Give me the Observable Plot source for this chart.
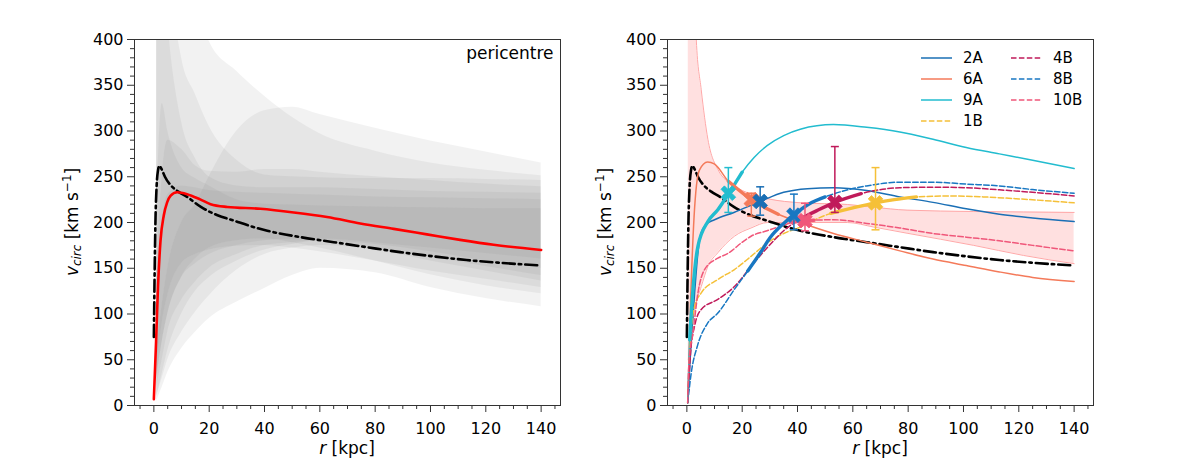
<!DOCTYPE html>
<html><head><meta charset="utf-8">
<script src="https://cdn.jsdelivr.net/npm/d3@7"></script>
<script src="https://cdn.jsdelivr.net/npm/@observablehq/plot@0.6"></script>
<style>
body{margin:0;background:#fff;font-family:"DejaVu Sans",sans-serif;color:#000;}
#wrap{position:relative;width:1196px;height:458px;overflow:hidden;background:#fff;}
.panel{position:absolute;top:0;}
.lab{position:absolute;white-space:nowrap;font-size:17px;line-height:1;}
.ylab{transform:translate(-50%,-50%) rotate(-90deg);}
.xlab{transform:translate(-50%,-50%);}
.lab sub{font-size:70%;vertical-align:-0.3em;line-height:0;}
.lab sup{font-size:70%;vertical-align:0.55em;line-height:0;}
#legend{position:absolute;left:921px;top:47px;font-size:15px;}
.item{position:absolute;display:flex;align-items:center;height:21px;white-space:nowrap;}
.item svg{margin-right:11px;}
</style>
</head><body>
<div id="wrap">
  <div id="left" class="panel" style="left:0"></div>
  <div id="right" class="panel" style="left:598px"></div>
  <div class="lab ylab" style="left:72px;top:222px"><i>v</i><sub><i>circ</i></sub> [km s<sup>−1</sup>]</div>
  <div class="lab ylab" style="left:605px;top:222px"><i>v</i><sub><i>circ</i></sub> [km s<sup>−1</sup>]</div>
  <div class="lab xlab" style="left:347px;top:448px"><i>r</i> [kpc]</div>
  <div class="lab xlab" style="left:880px;top:448px"><i>r</i> [kpc]</div>
  <div id="legend"></div>
</div>
<script>
// ---------- tick labels ----------
const xMajor = [0, 20, 40, 60, 80, 100, 120, 140];
const xMinor = [-5, 5, 10, 15, 25, 30, 35, 45, 50, 55, 65, 70, 75, 85, 90, 95, 105, 110, 115, 125, 130, 135, 145];
const yMajor = [0, 50, 100, 150, 200, 250, 300, 350, 400];
const yMinor = [10, 20, 30, 40, 60, 70, 80, 90, 110, 120, 130, 140, 160, 170, 180, 190, 210, 220, 230, 240, 260, 270, 280, 290, 310, 320, 330, 340, 360, 370, 380, 390];

// ---------- Milky Way reference curve (black dash-dot) ----------
const mwR = [0, 0.3, 0.6, 1, 1.5, 2, 3, 4, 6, 8.7, 12, 17, 20, 23, 29, 35, 41, 53, 65, 77, 89, 101, 113, 125, 140];
const mwV = [75, 150, 205, 240, 257, 262, 257, 250, 241, 234, 228, 217, 212, 208, 202, 196, 191, 184, 178.5, 173, 167.6, 163, 159, 156, 153];

// ---------- left panel: red curve ----------
const redR = [0, 0.8, 1.5, 2.4, 3.6, 4.8, 6, 8.4, 12, 16.9, 20.5, 26.5, 38.5, 50.6, 62.6, 74.6, 86.7, 98.7, 110.7, 122.8, 140];
const redV = [7, 70, 130, 180, 208, 222, 229, 233, 231, 225, 220, 217, 215, 211, 206, 199, 193, 187, 181, 175.6, 170];

// ---------- left panel: grey bands ----------
const bandR = [1, 3, 5, 10, 15, 20, 30, 40, 50, 60, 80, 100, 120, 140];
const band1Lo = [5, 20, 36, 62, 80, 95, 113, 128, 142, 150, 145, 129, 117, 108];
const band1Hi = [60, 110, 150, 200, 220, 250, 300, 322, 326, 318, 303, 289, 277, 265];
const band2Lo = [30, 70, 100, 140, 160, 172, 180, 182, 178, 172, 158, 143, 131, 122];
const band2Hi = [900, 750, 650, 520, 450, 398, 365, 338, 315, 297, 278, 265, 257, 251];
const band3Lo = [40, 90, 120, 155, 165, 170, 174, 175, 172, 168, 158, 147, 138, 129];
const band3Hi = [800, 600, 500, 380, 340, 305, 268, 252, 250, 249, 248, 248, 247, 246];
const band4Lo = [10, 30, 50, 80, 102, 120, 148, 165, 172, 175, 170, 158, 147, 136];
const band4Hi = [150, 250, 290, 280, 262, 256, 255, 258, 258, 255, 250, 246, 242, 239];
const band5Lo = [20, 50, 80, 115, 135, 150, 165, 175, 178, 180, 172, 162, 152, 142];
const band5Hi = [450, 500, 420, 310, 270, 250, 240, 238, 238, 238, 236, 234, 233, 232];
const band6Lo = [10, 35, 60, 100, 125, 140, 158, 170, 176, 180, 176, 168, 158, 150];
const band6Hi = [120, 200, 230, 240, 238, 235, 233, 232, 231, 230, 228, 227, 226, 225];
const band7Lo = [30, 70, 100, 140, 155, 165, 175, 180, 182, 182, 178, 172, 166, 160];
const band7Hi = [200, 330, 300, 260, 248, 240, 225, 220, 219, 218, 217, 216, 215, 215];

// ---------- right panel: pink band ----------
const pinkR = [0.5, 1, 2, 3.4, 5.2, 7.6, 11.2, 17.2, 23.2, 29.2, 41.3, 58, 67.6, 79.6, 103.7, 121.7, 140];
const pinkLo = [50, 65, 88, 112, 130, 152, 167, 185, 194, 200, 200, 200, 195, 188.3, 175, 164, 155];
const pinkHi = [900, 700, 520, 400, 345, 291, 258, 240, 231, 226, 221.5, 219.7, 216.7, 213.5, 212, 211.5, 211];

// ---------- right panel: curves ----------
const seriesNames = ["2A", "6A", "9A", "1B", "4B", "8B", "10B"];
const seriesColors = ["#1a6fb5", "#f47a5a", "#22bccf", "#f5c038", "#c01a5a", "#1877c2", "#f0577a"];
const seriesDashed = [false, false, false, true, true, true, true];

const r2A = [0.3, 1.6, 2.8, 4, 5.2, 7, 10, 17, 26.5, 35, 43.6, 53, 65, 77, 89, 101, 113, 125, 140];
const v2A = [3, 72, 123, 167, 189, 198, 203, 211, 223, 233, 237, 238, 235, 228, 222, 215, 209, 205, 201];
const r6A = [0.3, 1.4, 2.6, 4.5, 7.5, 9.9, 15, 23.3, 29, 33, 41, 53, 65, 77, 89, 101, 113, 125, 140];
const v6A = [3, 118, 206, 257, 266, 264, 245, 225, 215, 209, 200, 188, 178.5, 169, 160, 153, 146, 140, 135.5];
const r9A = [0.3, 1, 2.2, 4, 7.6, 11.2, 15, 20, 24.3, 29, 35, 41, 53, 65, 77, 89, 101, 113, 125, 140];
const v9A = [3, 72, 127, 174, 201, 214, 231, 255, 271, 284, 295, 302, 307, 304, 299, 291, 282, 275, 268, 259];
const r1B = [0.3, 1.4, 2.8, 5.2, 11.2, 17.2, 23.2, 29.2, 35, 41, 47, 52, 60, 68.2, 75, 83, 95, 107, 119, 140];
const v1B = [3, 75, 108.6, 123, 137.7, 148.6, 163, 178, 188, 195, 204, 210, 216, 221.5, 225, 228, 229, 228, 226, 221.5];
const r4B = [0.3, 1.4, 2.8, 5.2, 11.2, 17.2, 23.2, 29.2, 35, 42, 47, 53.5, 63, 77, 89, 101, 113, 125, 140];
const v4B = [3, 60, 87, 105, 116, 130, 152, 173, 191, 205.5, 213, 222, 231.5, 238, 238.6, 238, 235.7, 233, 229];
const r8B = [0.3, 1.6, 3.9, 7.5, 11.2, 17.2, 22, 26.8, 30, 35, 38.7, 44, 50, 56, 65, 77, 89, 101, 113, 125, 140];
const v8B = [3, 36, 66, 90, 101, 127, 147, 168, 183, 199, 208.4, 220, 228, 234, 240, 244, 244, 242, 240, 236, 232];
const r10B = [0.3, 0.8, 2.2, 4, 6.4, 11.2, 14.7, 20.7, 23.2, 29, 34, 38, 42.7, 46, 53, 65, 77, 89, 101, 113, 125, 140];
const v10B = [3, 50, 79, 123, 148.6, 161, 166, 180, 185, 191, 196, 200, 202, 202.5, 203, 199, 194, 188, 184, 180, 175, 169];
const seriesR = [r2A, r6A, r9A, r1B, r4B, r8B, r10B];
const seriesV = [v2A, v6A, v9A, v1B, v4B, v8B, v10B];

// thick highlighted radial ranges
const thickNames = ["9A", "6A", "8B", "4B", "1B", "10B"];
const thickFrom = [1, 15, 22, 42, 52, 38];
const thickTo = [20, 33, 50, 63, 83, 46];

// markers with error bars
const markerNames = ["9A", "6A", "2A", "8B", "10B", "4B", "1B"];
const markerR = [15, 23.3, 26.5, 38.7, 42.7, 53.5, 68.2];
const markerV = [232, 225, 223, 208, 202, 222, 221.5];
const markerLo = [211, 207, 208, 192, 191, 211, 192];
const markerHi = [260, 232, 239, 231, 221, 283, 260];

// ---------- build tables ----------
const rows = (rs, vs) => rs.map((r, i) => ({r, v: vs[i]}));
const bandRows = (lo, hi) => bandR.map((r, i) => ({r, lo: lo[i], hi: hi[i]}));
const greyBands = [[band1Lo, band1Hi], [band2Lo, band2Hi], [band3Lo, band3Hi], [band4Lo, band4Hi],
                   [band5Lo, band5Hi], [band6Lo, band6Hi], [band7Lo, band7Hi]].map(([lo, hi]) => bandRows(lo, hi));
const mw = rows(mwR, mwV);
const red = rows(redR, redV);
const pink = pinkR.map((r, i) => ({r, lo: pinkLo[i], hi: pinkHi[i]}));
const curves = seriesNames.flatMap((name, i) =>
  seriesR[i].map((r, j) => ({name, r, v: seriesV[i][j], dashed: seriesDashed[i]})));
const thick = thickNames.flatMap((name, k) =>
  curves.filter(d => d.name === name && d.r >= thickFrom[k] && d.r <= thickTo[k]));
const markers = markerNames.map((name, i) => ({name, r: markerR[i], v: markerV[i], lo: markerLo[i], hi: markerHi[i]}));

// ---------- symbols ----------
const xSymbol = {draw(ctx, size) {
  const L = Math.sqrt(size / Math.PI), t = L * 0.3;
  const pts = [[t, L], [t, t], [L, t], [L, -t], [t, -t], [t, -L], [-t, -L], [-t, -t], [-L, -t], [-L, t], [-t, t], [-t, L]];
  const s = Math.SQRT1_2;
  pts.forEach(([x, y], i) => { const X = (x - y) * s, Y = (x + y) * s; i ? ctx.lineTo(X, Y) : ctx.moveTo(X, Y); });
  ctx.closePath();
}};
const capSymbol = {draw(ctx, size) {
  const w = Math.sqrt(size / Math.PI);
  ctx.moveTo(-w, 0); ctx.lineTo(w, 0);
}};

// ---------- shared axes ----------
const common = (mLeft, mRight) => ({
  width: 598, height: 458, marginLeft: mLeft, marginRight: mRight, marginTop: 39, marginBottom: 53,
  x: {domain: [-7, 147]}, y: {domain: [0, 400]},
  color: {domain: seriesNames, range: seriesColors},
  style: {fontFamily: "DejaVu Sans", fontSize: "16px", color: "#000", background: "transparent", overflow: "visible"}
});
const axes = [
  Plot.axisX({ticks: xMajor, tickSize: 7, tickPadding: 10, tickFormat: d => String(d), label: null, fontSize: 16, stroke: "#333"}),
  Plot.axisX({ticks: xMinor, tickSize: 4, text: null, label: null, stroke: "#333"}),
  Plot.axisY({ticks: yMajor, tickSize: 7, tickPadding: 4, tickFormat: d => String(d), label: null, fontSize: 16, stroke: "#333"}),
  Plot.axisY({ticks: yMinor, tickSize: 4, text: null, label: null, stroke: "#333"}),
  Plot.frame({stroke: "#333", strokeWidth: 1})
];
const mwLine = Plot.line(mw, {x: "r", y: "v", stroke: "#000", strokeWidth: 2.6, strokeDasharray: "12,4,2.5,4", curve: "monotone-x", clip: true});

// ---------- left panel ----------
const left = Plot.plot({
  ...common(134, 38),
  marks: [
    ...greyBands.map(b => Plot.areaY(b, {x: "r", y1: "lo", y2: "hi", fill: "#808080", fillOpacity: 0.1, curve: "monotone-x", clip: true})),
    mwLine,
    Plot.line(red, {x: "r", y: "v", stroke: "#ff0000", strokeWidth: 2.6, curve: "monotone-x", clip: true}),
    Plot.text(["pericentre"], {frameAnchor: "top-right", dx: -7, dy: 7, lineAnchor: "top", textAnchor: "end", fontSize: 17, fill: "#000"}),
    ...axes
  ]
});
document.getElementById("left").appendChild(left);

// ---------- right panel ----------
const right = Plot.plot({
  ...common(69, 103),
  marks: [
    Plot.areaY(pink, {x: "r", y1: "lo", y2: "hi", fill: "#ff0000", fillOpacity: 0.12, curve: "monotone-x", clip: true}),
    Plot.line(pink, {x: "r", y: "lo", stroke: "#ffa8a8", strokeWidth: 1, curve: "monotone-x", clip: true}),
    Plot.line(pink, {x: "r", y: "hi", stroke: "#ffa8a8", strokeWidth: 1, curve: "monotone-x", clip: true}),
    mwLine,
    Plot.line(curves.filter(d => !d.dashed), {x: "r", y: "v", z: "name", stroke: "name", strokeWidth: 1.5, curve: "monotone-x", clip: true}),
    Plot.line(curves.filter(d => d.dashed), {x: "r", y: "v", z: "name", stroke: "name", strokeWidth: 1.5, strokeDasharray: "5.5,2.4", curve: "monotone-x", clip: true}),
    Plot.line(thick, {x: "r", y: "v", z: "name", stroke: "name", strokeWidth: 3.4, curve: "monotone-x", clip: true}),
    Plot.ruleX(markers, {x: "r", y1: "lo", y2: "hi", stroke: "name", strokeWidth: 1.5}),
    Plot.dot(markers, {x: "r", y: "lo", symbol: capSymbol, r: 4, stroke: "name", fill: "none", strokeWidth: 1.5}),
    Plot.dot(markers, {x: "r", y: "hi", symbol: capSymbol, r: 4, stroke: "name", fill: "none", strokeWidth: 1.5}),
    Plot.dot(markers, {x: "r", y: "v", symbol: xSymbol, r: 8, fill: "name", stroke: "name", strokeWidth: 0.8}),
    ...axes
  ]
});
document.getElementById("right").appendChild(right);

// ---------- legend ----------
const legendCols = [0, 0, 0, 0, 1, 1, 1];
const legendRows = [0, 1, 2, 3, 0, 1, 2];
const leg = document.getElementById("legend");
seriesNames.forEach((name, i) => {
  const div = document.createElement("div");
  div.className = "item";
  div.style.left = (legendCols[i] * 90) + "px";
  div.style.top = (legendRows[i] * 21) + "px";
  const dash = seriesDashed[i] ? ' stroke-dasharray="5.5,2.4"' : '';
  div.innerHTML = `<svg width="31" height="4"><line x1="0" y1="2" x2="31" y2="2" stroke="${seriesColors[i]}" stroke-width="1.5"${dash}/></svg><span>${name}</span>`;
  leg.appendChild(div);
});
</script>
</body></html>
